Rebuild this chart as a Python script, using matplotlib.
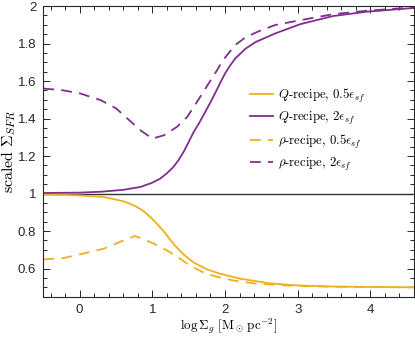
import matplotlib
matplotlib.use("Agg")
import matplotlib.pyplot as plt
from matplotlib.ticker import MultipleLocator

plt.rcParams['mathtext.fontset'] = 'cm'
plt.rcParams['font.family'] = ['Liberation Sans', 'DejaVu Sans']

# Data
x_q_half = [-0.5, -0.04, 0.33, 0.6, 0.7, 0.785, 0.86, 0.93, 1.02, 1.155, 1.29, 1.43, 1.57, 1.75, 1.935, 2.21, 2.6, 3.0, 3.5, 4.0, 4.6]
y_q_half = [0.995, 0.991, 0.982, 0.959, 0.945, 0.929, 0.912, 0.89, 0.857, 0.8, 0.732, 0.675, 0.632, 0.596, 0.572, 0.546, 0.522, 0.51, 0.504, 0.502, 0.5]

x_q_two = [-0.5, 0.0, 0.3, 0.6, 0.835, 1.0, 1.11, 1.2, 1.29, 1.36, 1.43, 1.5, 1.57, 1.65, 1.72, 1.8, 1.87, 1.94, 2.0, 2.07, 2.14, 2.28, 2.42, 2.69, 3.04, 3.49, 3.95, 4.6]
y_q_two = [1.003, 1.005, 1.01, 1.02, 1.035, 1.058, 1.08, 1.108, 1.142, 1.178, 1.222, 1.275, 1.329, 1.38, 1.43, 1.487, 1.54, 1.595, 1.64, 1.683, 1.72, 1.772, 1.808, 1.854, 1.904, 1.947, 1.97, 1.99]

x_r_half = [-0.5, -0.22, 0.05, 0.33, 0.555, 0.76, 0.835, 1.02, 1.2, 1.34, 1.52, 1.71, 1.89, 2.12, 2.4, 2.7, 3.0, 3.5, 4.0, 4.6]
y_r_half = [0.649, 0.656, 0.68, 0.706, 0.742, 0.774, 0.763, 0.733, 0.697, 0.664, 0.615, 0.578, 0.556, 0.536, 0.521, 0.513, 0.507, 0.503, 0.501, 0.5]

x_r_two = [-0.5, -0.25, 0.0, 0.29, 0.5, 0.835, 1.0, 1.16, 1.34, 1.48, 1.615, 1.75, 1.87, 1.94, 2.0, 2.14, 2.28, 2.46, 2.69, 3.04, 3.49, 3.95, 4.6]
y_r_two = [1.56, 1.552, 1.535, 1.498, 1.455, 1.338, 1.293, 1.311, 1.356, 1.409, 1.489, 1.572, 1.645, 1.69, 1.725, 1.792, 1.833, 1.865, 1.899, 1.925, 1.957, 1.975, 1.993]

labels = [r"$Q$-recipe, $0.5\epsilon_{sf}$", r"$Q$-recipe, $2\epsilon_{sf}$",
          r"$\rho$-recipe, $0.5\epsilon_{sf}$", r"$\rho$-recipe, $2\epsilon_{sf}$"]

orange = '#EDB120'
purple = '#7E2F8E'

fig = plt.figure(figsize=(4.15, 3.37), dpi=100)
ax = fig.add_axes([0.1043, 0.1196, 0.8933, 0.8624])

lw = 1.3
dash = (0, (6, 4))
ax.axhline(1.0, color='#333333', lw=1.0, zorder=1)
ax.plot(x_q_half, y_q_half, color=orange, lw=lw, label=labels[0])
ax.plot(x_q_two, y_q_two, color=purple, lw=lw, label=labels[1])
ax.plot(x_r_half, y_r_half, color=orange, lw=lw, ls=dash, label=labels[2])
ax.plot(x_r_two, y_r_two, color=purple, lw=lw, ls=dash, label=labels[3])

ax.set_xlim(-0.5, 4.6)
ax.set_ylim(0.45, 2.0)
ax.set_xticks([0, 1, 2, 3, 4])
ax.set_yticks([0.6, 0.8, 1.0, 1.2, 1.4, 1.6, 1.8, 2.0])
ax.set_yticklabels(['0.6', '0.8', '1', '1.2', '1.4', '1.6', '1.8', '2'])
ax.xaxis.set_minor_locator(MultipleLocator(0.2))
ax.yaxis.set_minor_locator(MultipleLocator(0.05))
ax.tick_params(which='both', direction='in', top=True, right=True, labelsize=9.5, colors='#262626', width=0.7)
ax.tick_params(which='major', length=5, pad=5)
ax.tick_params(which='minor', length=2.8)
for s in ax.spines.values():
    s.set_linewidth(0.8)
    s.set_color('#262626')

xl = ax.set_xlabel(r"$\log\Sigma_g\ [\mathrm{M}_\odot\,\mathrm{pc}^{-2}]$", fontsize=10, labelpad=1)
yl = ax.set_ylabel(r"$\mathrm{scaled}\ \Sigma_{SFR}$", fontsize=10.5, labelpad=0)

leg = ax.legend(loc='center left', bbox_to_anchor=(0.523, 0.574), frameon=False,
                handlelength=1.65, handletextpad=0.36, labelspacing=0.38,
                prop={'family': 'cmr10', 'size': 10})

# fit label widths to the reference's measured extents
fig.canvas.draw()
r = fig.canvas.get_renderer()
w = xl.get_window_extent(r).width
if w > 0:
    xl.set_fontsize(max(8.5, min(11, 10 * 97.0 / w)))
h = yl.get_window_extent(r).height
if h > 0:
    yl.set_fontsize(max(8.5, min(11.5, 10.5 * 85.0 / h)))
for t in leg.get_texts()[:1]:
    tw = t.get_window_extent(r).width
if tw > 0:
    s = max(8.5, min(11.5, 10 * 87.0 / tw))
    for t in leg.get_texts():
        t.set_fontsize(s)

fig.savefig('out.png', dpi=100)
